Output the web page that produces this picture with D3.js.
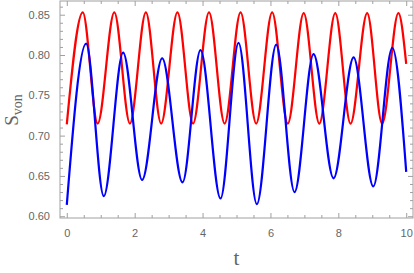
<!DOCTYPE html>
<html>
<head>
<meta charset="utf-8">
<script src="https://cdn.jsdelivr.net/npm/d3@7"></script>
<style>
  html, body { margin: 0; padding: 0; background: #fff; }
  svg { display: block; }
</style>
</head>
<body>
<svg id="chart" width="414" height="273"></svg>
<script>
// ---- data (extrema of each curve) ----
const redT  = [0, 0.47, 0.91, 1.40, 1.86, 2.33, 2.78, 3.26, 3.72, 4.19, 4.65, 5.12, 5.58, 6.05, 6.51, 6.98, 7.44, 7.91, 8.36, 8.85, 9.29, 9.77, 10];
const redV  = [0.714, 0.853, 0.715, 0.853, 0.715, 0.853, 0.715, 0.853, 0.715, 0.853, 0.715, 0.853, 0.715, 0.853, 0.715, 0.852, 0.715, 0.852, 0.715, 0.852, 0.715, 0.852, 0.789];
const blueT = [0, 0.57, 1.09, 1.66, 2.22, 2.81, 3.41, 3.94, 4.53, 5.06, 5.60, 6.17, 6.71, 7.27, 7.86, 8.45, 9.03, 9.59, 10];
const blueV = [0.614, 0.814, 0.625, 0.803, 0.645, 0.796, 0.642, 0.806, 0.622, 0.815, 0.615, 0.813, 0.630, 0.801, 0.647, 0.797, 0.637, 0.809, 0.655];
const xTickLabels = [0, 2, 4, 6, 8, 10];
const yTickLabels = [0.60, 0.65, 0.70, 0.75, 0.80, 0.85];
const xLabel = "t";
const yLabelMain = "S";
const yLabelSub = "von";

const svg = d3.select("#chart");
const x = d3.scaleLinear().domain([-0.2, 10.2]).range([60, 413]);
const y = d3.scaleLinear().domain([0.5978, 0.867]).range([218, 1]);

const frameColor = "#a0a0a0";
const labelColor = "#666";

// frame
svg.append("rect")
  .attr("x", x.range()[0]).attr("y", y.range()[1])
  .attr("width", x.range()[1] - x.range()[0])
  .attr("height", y.range()[0] - y.range()[1])
  .attr("fill", "none").attr("stroke", frameColor).attr("stroke-width", 1);

// ticks
const xMinor = d3.range(0, 10.01, 0.5).filter(v => !xTickLabels.some(m => Math.abs(m - v) < 1e-6));
const yMinor = d3.range(0.60, 0.8601, 0.01).filter(v => !yTickLabels.some(m => Math.abs(m - v) < 1e-6));

function addAxis(axisGen, transform, labels) {
  const g = svg.append("g").attr("transform", transform).call(axisGen);
  g.select(".domain").remove();
  g.selectAll("line").attr("stroke", frameColor);
  g.selectAll("text").attr("fill", labelColor)
    .style("font-family", "'Liberation Sans', Arial, sans-serif").style("font-size", "11px");
  if (!labels) g.selectAll("text").remove();
  return g;
}
// major ticks (inward)
addAxis(d3.axisBottom(x).tickValues(xTickLabels).tickSizeInner(-5).tickSizeOuter(0).tickPadding(11).tickFormat(d3.format("d")), `translate(0,${y.range()[0]})`, true);
addAxis(d3.axisBottom(x).tickValues(xMinor).tickSizeInner(-3).tickSizeOuter(0), `translate(0,${y.range()[0]})`, false);
addAxis(d3.axisTop(x).tickValues(xTickLabels).tickSizeInner(-5).tickSizeOuter(0), `translate(0,${y.range()[1]})`, false);
addAxis(d3.axisTop(x).tickValues(xMinor).tickSizeInner(-3).tickSizeOuter(0), `translate(0,${y.range()[1]})`, false);
addAxis(d3.axisLeft(y).tickValues(yTickLabels).tickSizeInner(-5).tickSizeOuter(0).tickPadding(10).tickFormat(d3.format(".2f")), `translate(${x.range()[0]},0)`, true);
addAxis(d3.axisLeft(y).tickValues(yMinor).tickSizeInner(-3).tickSizeOuter(0), `translate(${x.range()[0]},0)`, false);
addAxis(d3.axisRight(y).tickValues(yTickLabels).tickSizeInner(-5).tickSizeOuter(0), `translate(${x.range()[1]},0)`, false);
addAxis(d3.axisRight(y).tickValues(yMinor).tickSizeInner(-3).tickSizeOuter(0), `translate(${x.range()[1]},0)`, false);

// curves
const line = d3.line().x(d => x(d[0])).y(d => y(d[1])).curve(d3.curveMonotoneX);
svg.append("clipPath").attr("id", "clip").append("rect")
  .attr("x", x.range()[0]).attr("y", y.range()[1])
  .attr("width", x.range()[1] - x.range()[0]).attr("height", y.range()[0] - y.range()[1]);
const plot = svg.append("g").attr("clip-path", "url(#clip)");
plot.append("path").datum(d3.zip(redT, redV)).attr("d", line)
  .attr("fill", "none").attr("stroke", "#ff0000").attr("stroke-width", 2.2);
plot.append("path").datum(d3.zip(blueT, blueV)).attr("d", line)
  .attr("fill", "none").attr("stroke", "#0000ff").attr("stroke-width", 2.2);

// axis labels
svg.append("text").attr("x", (x.range()[0] + x.range()[1]) / 2).attr("y", 265)
  .attr("text-anchor", "middle").attr("fill", labelColor)
  .style("font-family", "'Liberation Serif', 'Times New Roman', serif").style("font-size", "21px")
  .text(xLabel);

const yl = svg.append("text").attr("transform", "translate(18,110) rotate(-90)")
  .attr("text-anchor", "middle").attr("fill", labelColor)
  .style("font-family", "'Liberation Serif', 'Times New Roman', serif");
yl.append("tspan").style("font-size", "19px").text(yLabelMain);
yl.append("tspan").style("font-size", "14px").attr("dy", 4).text(yLabelSub);
</script>
</body>
</html>
